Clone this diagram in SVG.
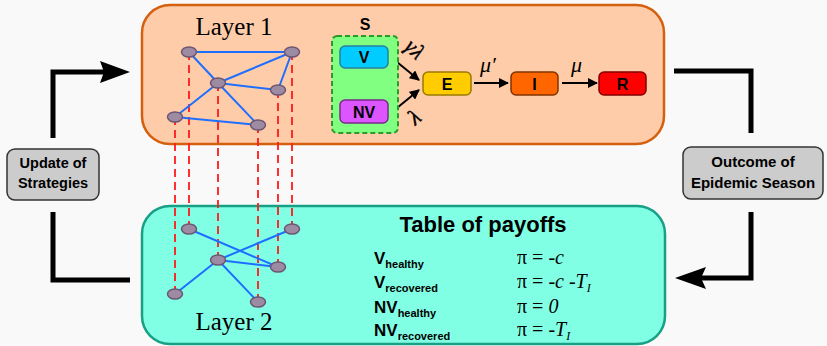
<svg xmlns="http://www.w3.org/2000/svg" width="827" height="346" viewBox="0 0 827 346">
<defs>
<style>
.sans{font-family:"Liberation Sans",Arial,sans-serif;font-weight:bold;fill:#000}
.serif{font-family:"Liberation Serif","Times New Roman",serif;fill:#000}
.nd{fill:#9d8aa3;stroke:#6b5570;stroke-width:1.5}
.ed{stroke:#1f6fff;stroke-width:2;fill:none;stroke-linecap:round}
.dash{stroke:#ff1a1a;stroke-width:1.8;stroke-dasharray:8,5;fill:none}
.loop{stroke:#000;stroke-width:5;fill:none}
.sa{stroke:#000;stroke-width:2;fill:none;marker-end:url(#ah)}
.gbox{fill:#cccccc;stroke:#333;stroke-width:1.5}
</style>
<marker id="ah" viewBox="0 0 10 10" refX="9" refY="5" markerWidth="5" markerHeight="5" orient="auto" markerUnits="strokeWidth">
<path d="M0,0 L10,5 L0,10 Z" fill="#000"/>
</marker>
</defs>
<rect width="827" height="346" fill="#f9f9f9"/>

<g id="layer1-box">
<rect x="142" y="5" width="522" height="139" rx="28" fill="#ffcca9" stroke="#d4600f" stroke-width="2.5"/>
<text x="234" y="35" class="serif" font-size="25" text-anchor="middle">Layer 1</text>
</g>
<g id="layer2-box">
<rect x="142" y="206" width="523" height="138" rx="28" fill="#80ffe5" stroke="#17a085" stroke-width="2.5"/>
<text x="234" y="330" class="serif" font-size="25" text-anchor="middle">Layer 2</text>
</g>

<g id="connectors">
<line class="dash" x1="189" y1="52" x2="189" y2="229"/>
<line class="dash" x1="292" y1="52" x2="292" y2="229"/>
<line class="dash" x1="218" y1="83" x2="218" y2="260"/>
<line class="dash" x1="278" y1="90" x2="278" y2="267"/>
<line class="dash" x1="175" y1="117" x2="175" y2="294"/>
<line class="dash" x1="258" y1="125" x2="258" y2="302"/>
<line class="ed" x1="189" y1="52" x2="292" y2="52"/>
<line class="ed" x1="189" y1="52" x2="218" y2="83"/>
<line class="ed" x1="218" y1="83" x2="292" y2="52"/>
<line class="ed" x1="218" y1="83" x2="278" y2="90"/>
<line class="ed" x1="278" y1="90" x2="292" y2="52"/>
<line class="ed" x1="218" y1="83" x2="175" y2="117"/>
<line class="ed" x1="218" y1="83" x2="258" y2="125"/>
<line class="ed" x1="175" y1="117" x2="258" y2="125"/>
<line class="ed" x1="189" y1="229" x2="278" y2="267"/>
<line class="ed" x1="218" y1="260" x2="292" y2="229"/>
<line class="ed" x1="218" y1="260" x2="278" y2="267"/>
<line class="ed" x1="218" y1="260" x2="175" y2="294"/>
<line class="ed" x1="218" y1="260" x2="258" y2="302"/>
<line class="sa" x1="392" y1="58" x2="419" y2="80"/>
<line class="sa" x1="392" y1="112" x2="419" y2="90"/>
<line class="sa" x1="474" y1="83" x2="508" y2="83"/>
<line class="sa" x1="562" y1="83" x2="597" y2="83"/>
<polyline class="loop" points="53,138 53,72 104,72"/>
<polygon points="130,72 100,61 104,72 100,83" fill="#000"/>
<polyline class="loop" points="53,212 53,280 130,280"/>
<polyline class="loop" points="674,71 751,71 751,133"/>
<polyline class="loop" points="751,212 751,278 701,278"/>
<polygon points="675,278 706,267 701,278 706,289" fill="#000"/>
<text x="414" y="56" class="serif" font-size="22" font-style="italic" text-anchor="middle" stroke="#000" stroke-width="0.4" transform="rotate(45 414 50)">γλ</text>
<text x="415" y="124" class="serif" font-size="22" font-style="italic" text-anchor="middle" stroke="#000" stroke-width="0.4" transform="rotate(-40 415 118)">λ</text>
<text x="480" y="72" class="serif" font-size="22" font-style="italic">μ′</text>
<text x="571" y="72" class="serif" font-size="22" font-style="italic">μ</text>
</g>

<g id="layer1-nodes">
<ellipse class="nd" cx="189" cy="52" rx="7.5" ry="5"/>
<ellipse class="nd" cx="292" cy="52" rx="7.5" ry="5"/>
<ellipse class="nd" cx="218" cy="83" rx="7.5" ry="5"/>
<ellipse class="nd" cx="278" cy="90" rx="7.5" ry="5"/>
<ellipse class="nd" cx="175" cy="117" rx="7.5" ry="5"/>
<ellipse class="nd" cx="258" cy="125" rx="7.5" ry="5"/>
</g>
<g id="layer2-nodes">
<ellipse class="nd" cx="189" cy="229" rx="7.5" ry="5"/>
<ellipse class="nd" cx="292" cy="229" rx="7.5" ry="5"/>
<ellipse class="nd" cx="218" cy="260" rx="7.5" ry="5"/>
<ellipse class="nd" cx="278" cy="267" rx="7.5" ry="5"/>
<ellipse class="nd" cx="175" cy="294" rx="7.5" ry="5"/>
<ellipse class="nd" cx="258" cy="302" rx="7.5" ry="5"/>
</g>

<g id="S">
<text x="365" y="30" class="sans" font-size="16" text-anchor="middle">S</text>
<rect x="332" y="36" width="66" height="97" rx="5" fill="#80ff80" stroke="#2b9a2b" stroke-width="2" stroke-dasharray="5,3"/>
</g>
<g id="V">
<rect x="340" y="46" width="48" height="22" rx="5" fill="#00ccff" stroke="#2a7f9f" stroke-width="1.5"/>
<text x="364" y="63" class="sans" font-size="16" text-anchor="middle">V</text>
</g>
<g id="NV">
<rect x="340" y="100" width="48" height="23" rx="5" fill="#dd55ff" stroke="#7a2a8a" stroke-width="1.5"/>
<text x="364" y="118" class="sans" font-size="16" text-anchor="middle">NV</text>
</g>
<g id="E">
<rect x="423" y="72" width="48" height="23" rx="5" fill="#ffcc00" stroke="#9a7a00" stroke-width="1.5"/>
<text x="447" y="90" class="sans" font-size="16" text-anchor="middle">E</text>
</g>
<g id="I">
<rect x="511" y="72" width="47" height="23" rx="5" fill="#ff6600" stroke="#803300" stroke-width="1.5"/>
<text x="534.5" y="90" class="sans" font-size="16" text-anchor="middle">I</text>
</g>
<g id="R">
<rect x="599" y="72" width="47" height="23" rx="5" fill="#ff0000" stroke="#800000" stroke-width="1.5"/>
<text x="622.5" y="90" class="sans" font-size="16" text-anchor="middle">R</text>
</g>

<g id="update">
<rect x="7" y="149" width="92" height="51" rx="8" class="gbox"/>
<text x="53" y="168" class="sans" font-size="14.5" text-anchor="middle">Update of</text>
<text x="53" y="188" class="sans" font-size="14.5" text-anchor="middle">Strategies</text>
</g>
<g id="outcome">
<rect x="683" y="147" width="140" height="52" rx="8" class="gbox"/>
<text x="753" y="167" class="sans" font-size="15" text-anchor="middle">Outcome of</text>
<text x="753" y="188" class="sans" font-size="15" text-anchor="middle">Epidemic Season</text>
</g>

<g id="payoffs">
<text x="483" y="232" class="sans" font-size="22" text-anchor="middle">Table of payoffs</text>
<text x="374" y="264" class="sans" font-size="17">V<tspan font-size="11" dy="4">healthy</tspan></text>
<text x="374" y="288" class="sans" font-size="17">V<tspan font-size="11" dy="4">recovered</tspan></text>
<text x="374" y="313" class="sans" font-size="17">NV<tspan font-size="11" dy="4">healthy</tspan></text>
<text x="374" y="336" class="sans" font-size="17">NV<tspan font-size="11" dy="4">recovered</tspan></text>
<text x="517" y="264" class="serif" font-size="20">π = -<tspan font-style="italic">c</tspan></text>
<text x="517" y="288" class="serif" font-size="20">π = -<tspan font-style="italic">c</tspan> -<tspan font-style="italic">T</tspan><tspan font-style="italic" font-size="12" dy="4">I</tspan></text>
<text x="517" y="313" class="serif" font-size="20">π = <tspan font-style="italic">0</tspan></text>
<text x="517" y="336" class="serif" font-size="20">π = -<tspan font-style="italic">T</tspan><tspan font-style="italic" font-size="12" dy="4">I</tspan></text>
</g>
</svg>
